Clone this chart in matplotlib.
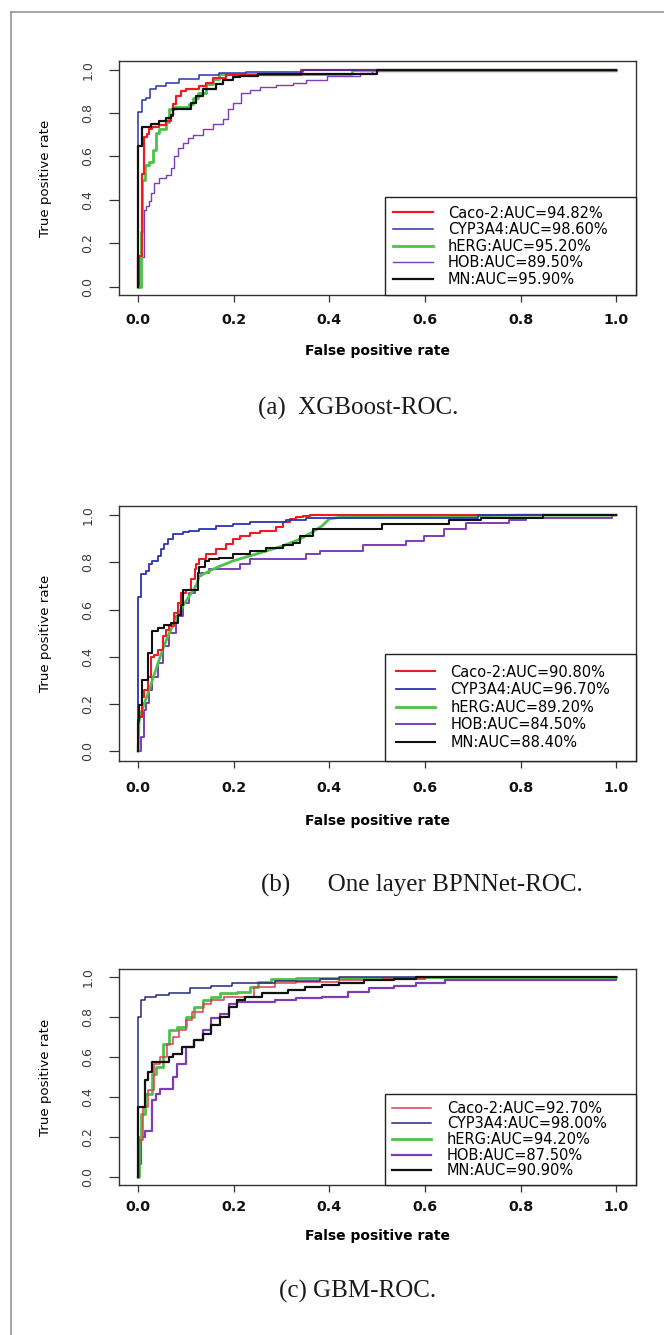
import numpy as np
import matplotlib.pyplot as plt
from matplotlib.lines import Line2D

W, H = 664, 1335

names = ["Caco-2", "CYP3A4", "hERG", "HOB", "MN"]
colors = ["#ec1c24", "#2a34b0", "#4cc348", "#7d3db6", "#111111"]

# ---------- (a) XGBoost ----------
auc_a = ["94.82%", "98.60%", "95.20%", "89.50%", "95.90%"]
caco_a_x = [0, 0, 0.008, 0.013, 0.018, 0.022, 0.030, 0.044, 0.058, 0.069, 0.072, 0.079, 0.090, 0.100, 0.128, 0.142, 0.156, 0.184, 0.205, 0.340, 1.0]
caco_a_y = [0, 0.14, 0.52, 0.69, 0.705, 0.725, 0.737, 0.747, 0.763, 0.786, 0.84, 0.878, 0.90, 0.913, 0.925, 0.94, 0.963, 0.974, 0.976, 1.0, 1.0]
cyp_a_x = [0, 0, 0.008, 0.017, 0.024, 0.037, 0.058, 0.086, 0.128, 0.170, 0.226, 0.344, 1.0]
cyp_a_y = [0, 0.806, 0.859, 0.87, 0.913, 0.925, 0.94, 0.959, 0.975, 0.984, 0.987, 1.0, 1.0]
herg_a_x = [0, 0.006, 0.009, 0.015, 0.023, 0.032, 0.037, 0.044, 0.058, 0.065, 0.076, 0.107, 0.114, 0.125, 0.142, 0.156, 0.170, 0.447, 1.0]
herg_a_y = [0, 0.25, 0.49, 0.56, 0.575, 0.63, 0.71, 0.725, 0.758, 0.817, 0.829, 0.84, 0.871, 0.894, 0.933, 0.956, 0.979, 1.0, 1.0]
hob_a_x = [0, 0.002, 0.013, 0.016, 0.022, 0.027, 0.034, 0.044, 0.058, 0.069, 0.076, 0.083, 0.093, 0.104, 0.114, 0.135, 0.156, 0.177, 0.188, 0.198, 0.216, 0.233, 0.254, 0.289, 0.324, 0.352, 0.394, 0.464, 0.490, 1.0]
hob_a_y = [0, 0.138, 0.355, 0.37, 0.393, 0.431, 0.478, 0.50, 0.516, 0.547, 0.60, 0.64, 0.663, 0.686, 0.701, 0.725, 0.748, 0.771, 0.817, 0.848, 0.894, 0.907, 0.918, 0.928, 0.94, 0.953, 0.971, 0.983, 0.995, 0.995]
mn_a_x = [0, 0, 0.009, 0.027, 0.044, 0.058, 0.069, 0.072, 0.111, 0.121, 0.135, 0.163, 0.177, 0.198, 0.212, 0.250, 0.500, 1.0]
mn_a_y = [0, 0.647, 0.735, 0.748, 0.763, 0.779, 0.79, 0.82, 0.848, 0.879, 0.91, 0.933, 0.953, 0.964, 0.969, 0.978, 1.0, 1.0]

# ---------- (b) One layer BPNNet ----------
auc_b = ["90.80%", "96.70%", "89.20%", "84.50%", "88.40%"]
caco_b_x = [0, 0, 0.002, 0.008, 0.013, 0.020, 0.027, 0.034, 0.041, 0.051, 0.058, 0.065, 0.076, 0.083, 0.090, 0.100, 0.111, 0.118, 0.121, 0.128, 0.142, 0.163, 0.184, 0.198, 0.212, 0.233, 0.254, 0.289, 0.303, 0.317, 0.331, 0.345, 0.360, 1.0]
caco_b_y = [0, 0.118, 0.146, 0.231, 0.26, 0.316, 0.401, 0.409, 0.43, 0.487, 0.515, 0.529, 0.586, 0.628, 0.671, 0.685, 0.728, 0.77, 0.791, 0.813, 0.834, 0.855, 0.877, 0.898, 0.912, 0.926, 0.933, 0.948, 0.969, 0.983, 0.994, 0.997, 1.0, 1.0]
cyp_b_x = [0, 0, 0.006, 0.016, 0.023, 0.030, 0.041, 0.048, 0.055, 0.062, 0.072, 0.093, 0.107, 0.128, 0.163, 0.198, 0.233, 0.268, 0.310, 0.352, 0.400, 0.710, 1.0]
cyp_b_y = [0, 0.652, 0.752, 0.763, 0.791, 0.806, 0.827, 0.855, 0.877, 0.898, 0.919, 0.929, 0.933, 0.94, 0.952, 0.962, 0.969, 0.973, 0.98, 0.987, 0.99, 1.0, 1.0]
herg_b_x = [0, 0.002, 0.013, 0.023, 0.037, 0.051, 0.065, 0.079, 0.093, 0.107, 0.121, 0.128, 0.142, 0.163, 0.198, 0.233, 0.268, 0.303, 0.338, 0.366, 0.385, 0.400, 0.420, 0.800, 1.0]
herg_b_y = [0, 0.132, 0.203, 0.26, 0.345, 0.43, 0.50, 0.557, 0.614, 0.657, 0.70, 0.742, 0.756, 0.777, 0.806, 0.827, 0.848, 0.87, 0.898, 0.93, 0.955, 0.985, 0.99, 1.0, 1.0]
hob_b_x = [0, 0.006, 0.013, 0.016, 0.023, 0.030, 0.041, 0.051, 0.065, 0.079, 0.093, 0.107, 0.118, 0.125, 0.132, 0.149, 0.212, 0.233, 0.303, 0.352, 0.380, 0.470, 0.560, 0.597, 0.640, 0.686, 0.775, 0.810, 0.990, 1.0]
hob_b_y = [0, 0.061, 0.174, 0.203, 0.26, 0.316, 0.373, 0.444, 0.50, 0.572, 0.628, 0.671, 0.70, 0.742, 0.756, 0.77, 0.791, 0.813, 0.816, 0.834, 0.85, 0.875, 0.89, 0.91, 0.94, 0.965, 0.98, 0.99, 1.0, 1.0]
mn_b_x = [0, 0, 0.002, 0.009, 0.020, 0.030, 0.041, 0.055, 0.069, 0.083, 0.090, 0.093, 0.125, 0.128, 0.139, 0.149, 0.170, 0.198, 0.233, 0.268, 0.303, 0.324, 0.338, 0.366, 0.510, 0.650, 0.716, 0.847, 1.0]
mn_b_y = [0, 0.132, 0.196, 0.302, 0.416, 0.508, 0.522, 0.536, 0.543, 0.579, 0.621, 0.685, 0.756, 0.781, 0.806, 0.813, 0.82, 0.834, 0.848, 0.862, 0.872, 0.881, 0.912, 0.94, 0.962, 0.98, 0.99, 1.0, 1.0]

# ---------- (c) GBM ----------
auc_c = ["92.70%", "98.00%", "94.20%", "87.50%", "90.90%"]
caco_c_x = [0, 0.002, 0.011, 0.020, 0.033, 0.046, 0.060, 0.073, 0.086, 0.100, 0.113, 0.135, 0.153, 0.180, 0.206, 0.242, 0.286, 0.331, 0.420, 0.509, 0.600, 1.0]
caco_c_y = [0, 0.185, 0.351, 0.435, 0.569, 0.602, 0.669, 0.702, 0.736, 0.786, 0.828, 0.869, 0.886, 0.90, 0.903, 0.953, 0.97, 0.978, 0.987, 0.993, 1.0, 1.0]
cyp_c_x = [0, 0, 0.006, 0.015, 0.037, 0.064, 0.109, 0.153, 0.197, 0.286, 0.380, 0.420, 1.0]
cyp_c_y = [0, 0.80, 0.886, 0.903, 0.911, 0.92, 0.945, 0.957, 0.97, 0.982, 0.99, 1.0, 1.0]
herg_c_x = [0, 0.002, 0.006, 0.015, 0.028, 0.037, 0.051, 0.064, 0.082, 0.100, 0.117, 0.135, 0.153, 0.171, 0.206, 0.233, 0.251, 0.278, 0.331, 0.600, 1.0]
herg_c_y = [0, 0.20, 0.318, 0.418, 0.518, 0.552, 0.669, 0.736, 0.752, 0.803, 0.853, 0.886, 0.903, 0.92, 0.928, 0.953, 0.978, 0.99, 0.995, 1.0, 1.0]
hob_c_x = [0, 0.002, 0.006, 0.015, 0.028, 0.037, 0.046, 0.073, 0.082, 0.100, 0.117, 0.135, 0.153, 0.171, 0.189, 0.206, 0.286, 0.331, 0.384, 0.420, 0.438, 0.482, 0.535, 0.580, 0.642, 1.0]
hob_c_y = [0, 0.067, 0.201, 0.234, 0.385, 0.418, 0.443, 0.502, 0.569, 0.652, 0.686, 0.736, 0.794, 0.819, 0.869, 0.878, 0.886, 0.895, 0.90, 0.903, 0.928, 0.945, 0.957, 0.97, 0.987, 0.995]
mn_c_x = [0, 0, 0.015, 0.020, 0.028, 0.064, 0.073, 0.091, 0.117, 0.135, 0.153, 0.171, 0.189, 0.206, 0.224, 0.260, 0.313, 0.349, 0.384, 0.420, 0.473, 0.535, 0.580, 1.0]
mn_c_y = [0, 0.351, 0.485, 0.527, 0.577, 0.602, 0.619, 0.652, 0.686, 0.719, 0.761, 0.803, 0.853, 0.886, 0.903, 0.92, 0.936, 0.95, 0.962, 0.973, 0.987, 0.99, 1.0, 1.0]

ticks = [0.0, 0.2, 0.4, 0.6, 0.8, 1.0]
tick_labels = ["0.0", "0.2", "0.4", "0.6", "0.8", "1.0"]


def px_box(left, top, right, bottom):
    return [left / W, 1 - bottom / H, (right - left) / W, (bottom - top) / H]


def draw_panel(ax, xs, ys, aucs, widths, cols, linear, leg_space, leg_pad, xpad):
    order = [3, 2, 0, 1, 4]
    handles = [None] * 5
    for i in order:
        ds = "default" if linear[i] else "steps-post"
        ln, = ax.plot(xs[i], ys[i], color=cols[i], lw=widths[i], drawstyle=ds)
        handles[i] = ln
    ax.set_xlim(-0.04, 1.04)
    ax.set_ylim(-0.04, 1.04)
    ax.set_xticks(ticks)
    ax.set_xticklabels(tick_labels, fontsize=10.3, fontweight="bold", color="#111111")
    ax.set_yticks(ticks)
    ax.set_yticklabels(tick_labels, fontsize=9, color="#3a3a3a",
                       rotation=90, ha="center", va="center")
    ax.tick_params(axis="x", length=5, width=0.9, color="#333333", pad=xpad)
    ax.tick_params(axis="y", length=7, width=0.9, color="#333333", pad=15.5)
    for s in ax.spines.values():
        s.set_color("#333333")
        s.set_linewidth(1.0)
    ax.set_xlabel("False positive rate", fontsize=10, fontweight="bold", va="center")
    ax.xaxis.set_label_coords(0.5, -0.237)
    ax.set_ylabel("True positive rate", fontsize=9.6, va="center")
    ax.yaxis.set_label_coords(-0.143, 0.5)
    labels = [f"{n}:AUC={a}" for n, a in zip(names, aucs)]
    lx = 266 / 516.5
    leg = ax.legend(handles, labels, loc="lower right", bbox_to_anchor=(lx, 0, 1 - lx, 1),
                    mode="expand", borderaxespad=0, fancybox=False, framealpha=1,
                    edgecolor="#222222", fontsize=10.5, handlelength=2.7,
                    handletextpad=1.05, borderpad=leg_pad, labelspacing=leg_space)
    leg.get_frame().set_linewidth(1.0)


fig = plt.figure(figsize=(W / 100, H / 100), dpi=100)

# page frame
fig.add_artist(Line2D([10.7 / W, 1], [1 - 12.3 / H, 1 - 12.3 / H], color="#8c8c8c", lw=1.1))
fig.add_artist(Line2D([10.7 / W, 10.7 / W], [0, 1 - 12.3 / H], color="#8c8c8c", lw=1.1))

ax_a = fig.add_axes(px_box(119, 61, 635.5, 295.3))
draw_panel(ax_a,
           [caco_a_x, cyp_a_x, herg_a_x, hob_a_x, mn_a_x],
           [caco_a_y, cyp_a_y, herg_a_y, hob_a_y, mn_a_y],
           auc_a, [1.6, 1.1, 2.0, 1.0, 1.6], colors,
           [False] * 5, 0.11, 0.57, 8.0)

ax_b = fig.add_axes(px_box(119, 505.7, 635.5, 760.7))
draw_panel(ax_b,
           [caco_b_x, cyp_b_x, herg_b_x, hob_b_x, mn_b_x],
           [caco_b_y, cyp_b_y, herg_b_y, hob_b_y, mn_b_y],
           auc_b, [1.5, 1.3, 2.0, 1.4, 1.5], colors,
           [False, False, True, False, False], 0.18, 0.73, 9.4)

colors_c = ["#e23a52", "#22287a", "#4cc348", "#7d3db6", "#111111"]
ax_c = fig.add_axes(px_box(119, 969.3, 635.5, 1185.3))
draw_panel(ax_c,
           [caco_c_x, cyp_c_x, herg_c_x, hob_c_x, mn_c_x],
           [caco_c_y, cyp_c_y, herg_c_y, hob_c_y, mn_c_y],
           auc_c, [1.1, 1.1, 2.0, 1.6, 1.6], colors_c,
           [False] * 5, 0.044, 0.48, 5.6)

cap = dict(ha="center", va="baseline", fontsize=18, family="Liberation Serif", color="#1a1a1a")
fig.text(358 / W, 1 - 415 / H, "(a)  XGBoost-ROC.", **cap)
fig.text(422 / W, 1 - 892 / H, "(b)      One layer BPNNet-ROC.", **cap)
fig.text(358 / W, 1 - 1298 / H, "(c) GBM-ROC.", **cap)

fig.savefig("out.png", dpi=100, facecolor="white")
